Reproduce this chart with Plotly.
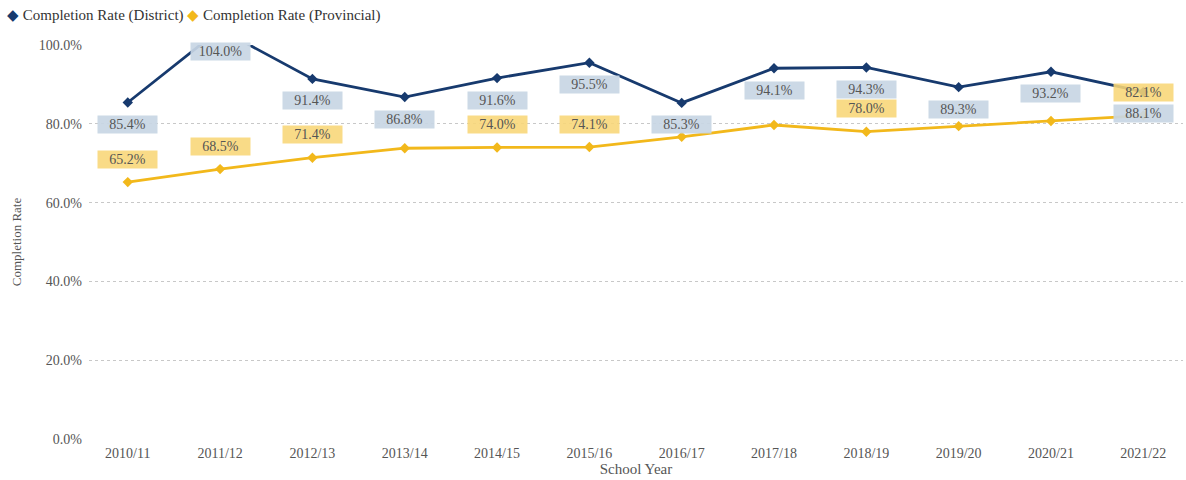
import plotly.graph_objects as go

school_years = ["2010/11", "2011/12", "2012/13", "2013/14", "2014/15", "2015/16",
                "2016/17", "2017/18", "2018/19", "2019/20", "2020/21", "2021/22"]
district_rate = [85.4, 104.0, 91.4, 86.8, 91.6, 95.5, 85.3, 94.1, 94.3, 89.3, 93.2, 88.1]
provincial_rate = [65.2, 68.5, 71.4, 73.8, 74.0, 74.1, 76.7, 79.7, 78.0, 79.4, 80.7, 82.1]
# which provincial values carry a data label (others collide with neighbours)
provincial_labelled = [True, True, True, False, True, True, False, False, True, False, False, True]
y_ticks = [0, 20, 40, 60, 80, 100]

NAVY = "#173a6e"
GOLD = "#f2b81b"
FONT = "Liberation Serif"
TEXT = "#555555"
W, H = 1186, 480
Y_MAX = 100
M_L, M_R, M_T, M_B = 89, 3, 45, 41
PX_PER_UNIT = (H - M_T - M_B) / Y_MAX
PLOT_W = W - M_L - M_R

fig = go.Figure()
fig.add_trace(go.Scatter(
    x=school_years, y=provincial_rate, name="Completion Rate (Provincial)",
    mode="lines+markers", line=dict(color=GOLD, width=2.8),
    marker=dict(symbol="diamond", size=8, color=GOLD), showlegend=False))
fig.add_trace(go.Scatter(
    x=school_years, y=district_rate, name="Completion Rate (District)",
    mode="lines+markers", line=dict(color=NAVY, width=2.8),
    marker=dict(symbol="diamond", size=8, color=NAVY), showlegend=False))


def label(x, v, shift, bg):
    # keep labels of off-scale points anchored at the top edge
    y = min(v, Y_MAX)
    extra = (v - y) * PX_PER_UNIT
    fig.add_annotation(
        x=x, y=y, xref="x", yref="y", text=f"{v:.1f}%", showarrow=False,
        yshift=shift + extra, bgcolor=bg, borderpad=1, width=57, height=15,
        font=dict(family=FONT, size=14, color=TEXT))


for x, v in zip(school_years, district_rate):
    label(x, v, -22, "rgba(200,214,228,0.92)")
for x, v, show in zip(school_years, provincial_rate, provincial_labelled):
    if show:
        label(x, v, 23, "rgba(248,214,118,0.88)")

# legend row: diamond swatches followed by series names
legend_text = (f"<span style='color:{NAVY}'>◆</span> Completion Rate (District) "
               f"<span style='color:{GOLD}'>◆</span> Completion Rate (Provincial)")
fig.add_annotation(
    xref="paper", yref="paper", x=(5 - M_L) / PLOT_W, y=1 + (M_T - 16) / (H - M_T - M_B),
    xanchor="left", yanchor="middle", showarrow=False, text=legend_text,
    font=dict(family=FONT, size=15, color="#333333"))

fig.update_layout(
    width=W, height=H,
    margin=dict(l=M_L, r=M_R, t=M_T, b=M_B),
    paper_bgcolor="white", plot_bgcolor="white",
    font=dict(family=FONT, size=14, color=TEXT),
    showlegend=False,
    xaxis=dict(type="category", range=[-0.42, 11.43], showgrid=False, showline=False,
               ticks="", ticklabelstandoff=4, automargin=False,
               tickfont=dict(family=FONT, size=14, color=TEXT),
               title=dict(text="School Year", standoff=0,
                          font=dict(family=FONT, size=15, color=TEXT))),
    yaxis=dict(range=[0, Y_MAX], tickvals=y_ticks,
               ticktext=[f"{t:.1f}%" for t in y_ticks], showgrid=True,
               gridcolor="#c8c8c8", griddash="dot", gridwidth=1, zeroline=False,
               showline=False, ticks="", ticklabelstandoff=6, automargin=False,
               tickfont=dict(family=FONT, size=14, color=TEXT),
               title=dict(text="Completion Rate", standoff=14,
                          font=dict(family=FONT, size=13, color=TEXT))),
)

fig.write_html("out.html")
